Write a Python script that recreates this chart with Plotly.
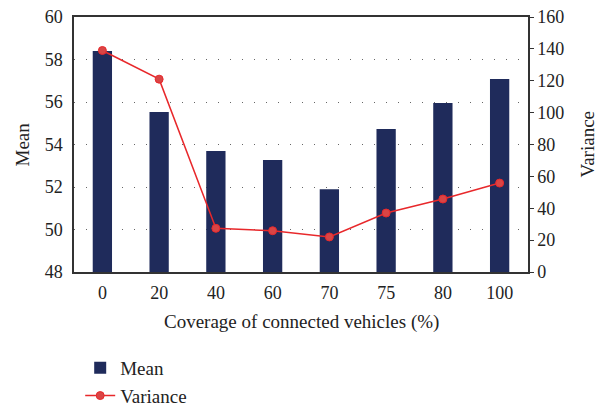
import plotly.graph_objects as go

# coverage categories and values
coverage = ["0", "20", "40", "60", "70", "75", "80", "100"]
mean_vals = [58.4, 55.53, 53.7, 53.27, 51.9, 54.73, 55.95, 57.08]
variance_vals = [139, 121, 27.4, 25.9, 22, 37, 45.8, 55.8]

font_family = "Liberation Serif"
axis_color = "#333333"
title_size = 19

fig = go.Figure()
fig.add_trace(go.Bar(x=coverage, y=mean_vals, name="Mean",
                     marker=dict(color="#1f2b5b", line=dict(width=0)),
                     width=0.34))
fig.add_trace(go.Scatter(x=coverage, y=variance_vals, name="Variance", yaxis="y2",
                         mode="lines+markers",
                         line=dict(color="#e8282b", width=1.5),
                         marker=dict(color="#d94545", size=8,
                                     line=dict(color="#e8282b", width=1))))

# axis titles as annotations so they sit where the reference has them
fig.add_annotation(text="Mean", x=-0.1145, y=0.5, xref="paper", yref="paper",
                   xanchor="center", yanchor="middle",
                   textangle=-90, showarrow=False, font=dict(size=title_size))
fig.add_annotation(text="Variance", x=1.132, y=0.5, xref="paper", yref="paper",
                   xanchor="center", yanchor="middle",
                   textangle=-90, showarrow=False, font=dict(size=title_size))
fig.add_annotation(text="Coverage of connected vehicles (%)", x=0.5, y=-0.196,
                   xref="paper", yref="paper", xanchor="center", yanchor="middle",
                   showarrow=False, font=dict(size=title_size))

fig.update_layout(
    width=603, height=407,
    margin=dict(l=74, r=75, t=17, b=135, autoexpand=False),
    paper_bgcolor="white", plot_bgcolor="white",
    font=dict(family=font_family, size=18, color="#222222"),
    showlegend=True,
    legend=dict(xref="container", yref="container", x=0.133, y=0.1425,
                xanchor="left", yanchor="top",
                font=dict(size=19), bgcolor="rgba(0,0,0,0)"),
    xaxis=dict(showline=True, linecolor=axis_color, linewidth=1.5, mirror=True,
               ticks="", showgrid=False, automargin=False, ticklabelstandoff=4),
    yaxis=dict(range=[48, 60], dtick=2,
               showline=True, linecolor=axis_color, linewidth=1.5,
               ticks="", showgrid=True, gridcolor="#666666", griddash="1px,11px",
               gridwidth=1, zeroline=False, automargin=False, ticklabelstandoff=6,
               ticklabeloverflow="allow"),
    yaxis2=dict(range=[0, 160], dtick=20,
                overlaying="y", side="right",
                showline=True, linecolor=axis_color, linewidth=1.5,
                ticks="outside", ticklen=4, tickcolor=axis_color,
                showgrid=False, zeroline=False, automargin=False,
                ticklabeloverflow="allow"),
)

# drop the default 8px body margin so the figure sits at the window's corner
fig.write_html("out.html", config={"displayModeBar": False},
               post_script="document.body.style.margin='0';")
